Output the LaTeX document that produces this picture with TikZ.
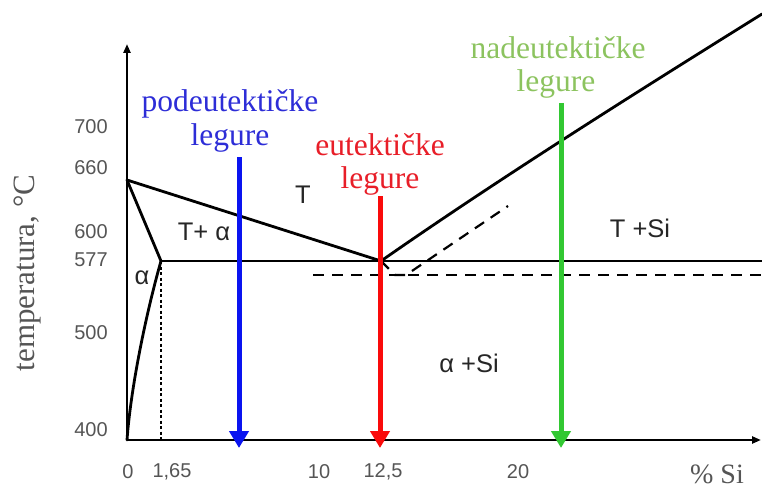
\documentclass[tikz,border=0pt]{standalone}
\usepackage{fontspec}
\setmainfont{Liberation Serif}
\setsansfont{Liberation Sans}
\usetikzlibrary{arrows.meta}
\definecolor{tblue}{RGB}{45,45,215}
\definecolor{ablue}{RGB}{10,20,240}
\definecolor{tred}{RGB}{232,30,40}
\definecolor{ared}{RGB}{250,10,10}
\definecolor{tgreen}{RGB}{140,195,95}
\definecolor{agreen}{RGB}{50,200,50}
\definecolor{numgray}{RGB}{85,85,85}
\begin{document}
\begin{tikzpicture}[x=1pt,y=-1pt,
  num/.style={font=\sffamily\fontsize{20}{20}\selectfont, text=numgray, inner sep=0pt},
  region/.style={font=\sffamily\fontsize{25.5}{25.5}\selectfont, text=black!85, inner sep=0pt},
  lab/.style={font=\fontsize{31.5}{31.5}\selectfont, inner sep=0pt, anchor=base},
  phase/.style={line width=2.8pt, line join=round, line cap=round},
  axis/.style={line width=2.4pt, -{Triangle[length=9pt,width=7pt]}},
  coolarrow/.style={line width=5pt, -{Triangle[length=17pt,width=19pt]}},
  dashline/.style={line width=2.2pt, dash pattern=on 11pt off 8pt}]
\useasboundingbox (0,0) rectangle (762,492);
% key points
\coordinate (O) at (127,440);
\coordinate (Ytop) at (127,44);
\coordinate (Xend) at (761,440);
\coordinate (A) at (127,180);
\coordinate (S) at (161,261);
\coordinate (E) at (381,261);
\coordinate (R) at (762,261);
\coordinate (Ltop) at (762,14);
\coordinate (Sb) at (161,440);
\coordinate (D0) at (313,275);
\coordinate (D1) at (762,275);
\coordinate (M0) at (395,275);
\coordinate (M1) at (406,275);
\coordinate (M2) at (508,206);
% axes
\draw[axis] (O) -- (Ytop);
\draw[axis] (O) -- (Xend);
% phase lines
\draw[phase] (A) -- (E);
\draw[phase] (A) -- (S);
\draw[line width=2pt] (S) -- (R);
\draw[phase] (S) .. controls (147,310) and (131,385) .. (O);
\draw[phase] (E) .. controls (500,178) and (640,90) .. (Ltop);
\draw[line width=1.2pt, dash pattern=on 3pt off 2.5pt] (S) -- (Sb);
\draw[dashline] (D0) -- (D1);
\draw[dashline] (E) -- (M0) -- (M1) -- (M2);
% cooling arrows
\coordinate (Bt) at (239,157); \coordinate (Bb) at (239,448);
\coordinate (Rt) at (380,196); \coordinate (Rb) at (380,448);
\coordinate (Gt) at (561,103); \coordinate (Gb) at (561,448);
\draw[coolarrow, ablue] (Bt) -- (Bb);
\draw[coolarrow, ared] (Rt) -- (Rb);
\draw[coolarrow, agreen] (Gt) -- (Gb);
% alloy labels
\node[lab, text=tblue] (b1) at (230,111) {podeutektičke};
\node[lab, text=tblue] (b2) at (230,145) {legure};
\node[lab, text=tred] (r1) at (380,155) {eutektičke};
\node[lab, text=tred] (r2) at (380,188) {legure};
\node[lab, text=tgreen] (g1) at (558,59) {nadeutektičke};
\node[lab, text=tgreen] (g2) at (556,92) {legure};
% region labels
\node[region] (rT) at (303,195) {T};
\node[region] (rTa) at (204,232) {T+ α};
\node[region] (ra) at (142,278) {α};
\node[region] (rTSi) at (640,228) {T +Si};
\node[region] (raSi) at (469,363) {α +Si};
% y tick labels
\node[num] (y700) at (91,127) {700};
\node[num] (y660) at (91,168) {660};
\node[num] (y600) at (91,232) {600};
\node[num] (y577) at (91,260) {577};
\node[num] (y500) at (91,333) {500};
\node[num] (y400) at (91,430) {400};
% x tick labels
\node[num] (x0) at (128,472) {0};
\node[num] (x165) at (172,472) {1,65};
\node[num] (x10) at (319,472) {10};
\node[num] (x125) at (383,472) {12,5};
\node[num] (x20) at (518,472) {20};
\node[font=\fontsize{28}{28}\selectfont, text=numgray, inner sep=0pt] (xl) at (717,474) {\% Si};
\node[font=\fontsize{31}{31}\selectfont, text=numgray, inner sep=0pt, rotate=90] (yl) at (27,273) {temperatura, °C};
\end{tikzpicture}
\end{document}
